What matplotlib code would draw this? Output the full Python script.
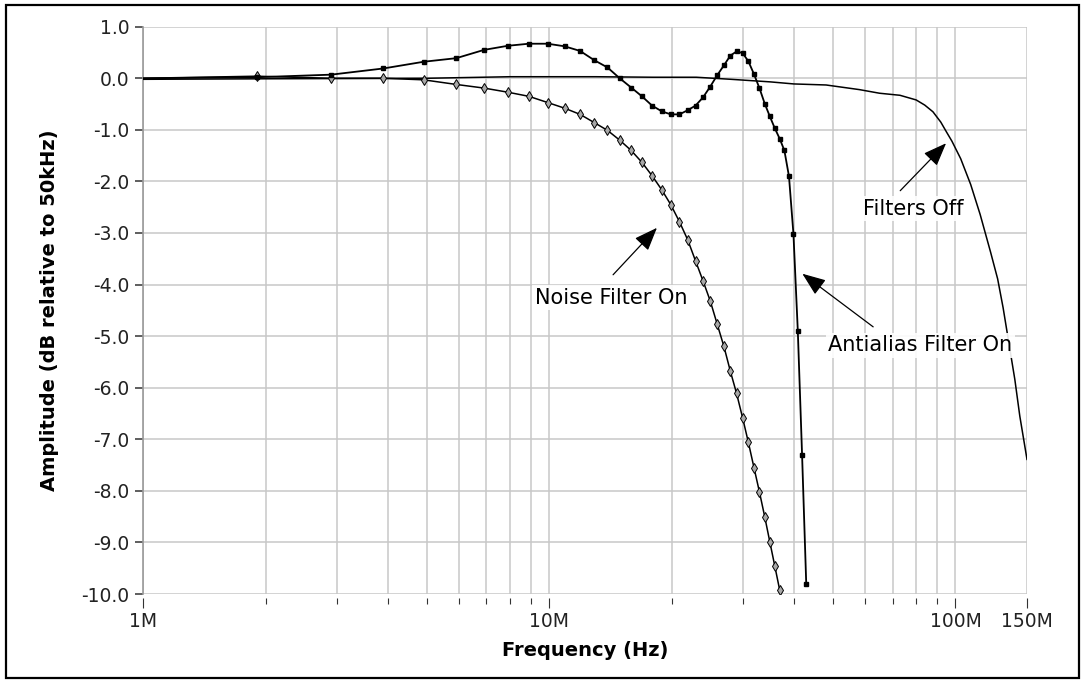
import numpy as np
import matplotlib
matplotlib.use("Agg")
from matplotlib import pyplot as plt
from matplotlib.patches import Rectangle
from matplotlib.ticker import FixedLocator, FixedFormatter, NullFormatter

# frequencies in MHz, amplitude in dB
noise_freq = [1.0, 1.9, 2.9, 3.9, 4.9, 5.9, 6.9, 7.9, 8.9, 9.9,
              10.9, 11.9, 12.9, 13.9, 14.9, 15.9, 16.9, 17.9, 18.9, 19.9,
              20.9, 21.9, 22.9, 23.9, 24.9, 25.9, 26.9, 27.9, 28.9, 29.9,
              30.9, 31.9, 32.9, 33.9, 34.9, 35.9, 36.9]
noise_db = [0.0, 0.04, 0.0, 0.0, -0.03, -0.12, -0.19, -0.27, -0.35, -0.47,
            -0.58, -0.70, -0.86, -1.01, -1.20, -1.40, -1.63, -1.89, -2.16, -2.45,
            -2.78, -3.13, -3.54, -3.93, -4.32, -4.77, -5.20, -5.68, -6.11, -6.58,
            -7.06, -7.55, -8.02, -8.50, -8.99, -9.46, -9.92]

alias_freq = [1.0, 1.9, 2.9, 3.9, 4.9, 5.9, 6.9, 7.9, 8.9, 9.9,
              10.9, 11.9, 12.9, 13.9, 14.9, 15.9, 16.9, 17.9, 18.9, 19.9,
              20.9, 21.9, 22.9, 23.9, 24.9, 25.9, 26.9, 27.9, 28.9, 29.9,
              30.9, 31.9, 32.9, 33.9, 34.9, 35.9, 36.9, 37.9, 38.9, 39.9,
              40.9, 41.9, 42.9]
alias_db = [0.0, 0.02, 0.07, 0.19, 0.32, 0.39, 0.55, 0.63, 0.67, 0.67,
            0.62, 0.53, 0.35, 0.21, 0.0, -0.18, -0.35, -0.53, -0.64, -0.70,
            -0.70, -0.62, -0.53, -0.37, -0.16, 0.06, 0.25, 0.44, 0.52, 0.49,
            0.33, 0.08, -0.19, -0.49, -0.74, -0.97, -1.17, -1.40, -1.90, -3.02,
            -4.90, -7.30, -9.80]

off_freq = [1, 2, 5, 8, 13, 18, 23, 28, 35, 40, 48, 58, 65, 73, 80, 84, 88,
            92, 95, 98, 103, 109, 115, 122, 127, 131, 135, 140, 144, 150]
off_db = [-0.02, -0.01, 0.0, 0.03, 0.03, 0.02, 0.02, -0.02, -0.07, -0.11, -0.13,
          -0.22, -0.29, -0.33, -0.42, -0.52, -0.65, -0.85, -1.04, -1.22, -1.56,
          -2.06, -2.64, -3.37, -3.89, -4.45, -5.08, -5.84, -6.55, -7.39]

y_ticks = [1.0, 0.0, -1.0, -2.0, -3.0, -4.0, -5.0, -6.0, -7.0, -8.0, -9.0, -10.0]
y_labels = ["1.0", "0.0", "-1.0", "-2.0", "-3.0", "-4.0", "-5.0", "-6.0",
            "-7.0", "-8.0", "-9.0", "-10.0"]
x_ticks = [1, 10, 100, 150]
x_labels = ["1M", "10M", "100M", "150M"]
x_minor = [2, 3, 4, 5, 6, 7, 8, 9, 20, 30, 40, 50, 60, 70, 80, 90]

W, H = 1085, 684
fig = plt.figure(figsize=(W / 100, H / 100), dpi=100)
ax = fig.add_axes([143.3 / W, 1 - 594 / H, (1027 - 143.3) / W, (594 - 26.7) / H])

ax.plot(off_freq, off_db, color="black", lw=1.1, zorder=3)
ax.plot(noise_freq, noise_db, color="black", lw=1.1, marker="d", ms=5.5,
        mfc="#a8a8a8", mec="black", mew=0.7, markevery=slice(1, None), zorder=4)
ax.plot(alias_freq, alias_db, color="black", lw=1.3, marker="s", ms=3.2,
        mfc="black", mec="black", markevery=slice(1, None), zorder=5)

ax.set_xscale("log")
ax.set_xlim(1, 150)
ax.set_ylim(-10, 1)

ax.xaxis.set_major_locator(FixedLocator(x_ticks))
ax.xaxis.set_major_formatter(FixedFormatter(x_labels))
ax.xaxis.set_minor_locator(FixedLocator(x_minor))
ax.xaxis.set_minor_formatter(NullFormatter())
ax.yaxis.set_major_locator(FixedLocator(y_ticks))
ax.yaxis.set_major_formatter(FixedFormatter(y_labels))

ax.grid(True, which="both", axis="x", color="#c8c8c8", lw=1.1)
ax.grid(True, which="major", axis="y", color="#c8c8c8", lw=1.1)
ax.set_axisbelow(True)
# no grid line at the right edge (150M)
ax.xaxis.get_major_ticks()[-1].gridline.set_visible(False)

for s in ["top", "right", "bottom"]:
    ax.spines[s].set_visible(False)
ax.spines["bottom"].set_position(("outward", 3))
ax.spines["left"].set_color("#999999")
ax.spines["left"].set_linewidth(1.2)

ax.tick_params(axis="x", which="major", length=7, width=0.8, color="#333333",
               labelsize=13.5, labelcolor="#222222", pad=3)
ax.tick_params(axis="x", which="minor", length=4.5, width=0.8, color="#333333")
ax.tick_params(axis="y", length=6, width=1.1, color="#333333",
               labelsize=13.5, labelcolor="#222222", pad=4)

ax.set_xlabel("Frequency (Hz)", fontsize=14, fontweight="bold", labelpad=7)
ax.set_ylabel("Amplitude (dB relative to 50kHz)", fontsize=14,
              fontweight="bold", labelpad=16)

arrow = dict(arrowstyle="-|>,head_length=0.9,head_width=0.35", color="black",
             lw=0.9, shrinkA=0, shrinkB=0, mutation_scale=16)
box = dict(boxstyle="square,pad=0.12", fc="white", ec="none", alpha=0.9)

ax.annotate("", xy=(18.4, -2.90), xytext=(14.35, -3.81), arrowprops=arrow)
ax.text(14.17, -4.26, "Noise Filter On", fontsize=15, ha="center",
        va="center", bbox=box, zorder=6)

ax.annotate("", xy=(41.97, -3.79), xytext=(62.7, -4.82), arrowprops=arrow)
ax.text(81.9, -5.18, "Antialias Filter On", fontsize=15, ha="center",
        va="center", bbox=box, zorder=6)

ax.annotate("", xy=(94.8, -1.26), xytext=(73.1, -2.18), arrowprops=arrow)
ax.text(78.7, -2.53, "Filters Off", fontsize=15, ha="center",
        va="center", bbox=box, zorder=6)

fig.patches.append(Rectangle((6 / W, 1 - 678 / H), (1079 - 6) / W, (678 - 5) / H,
                             transform=fig.transFigure, fill=False,
                             ec="black", lw=1.6))

fig.savefig("out.png", dpi=100)
